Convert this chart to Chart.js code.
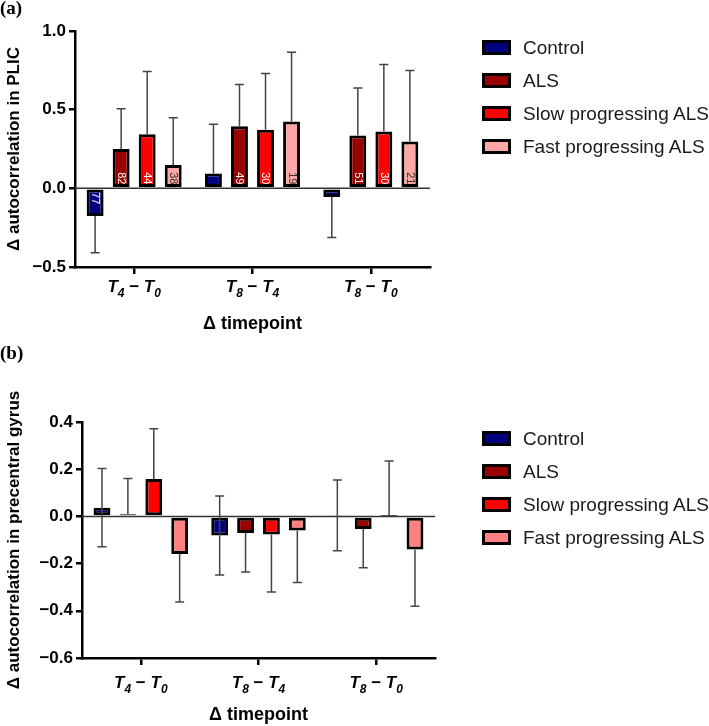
<!DOCTYPE html>
<html>
<head>
<meta charset="utf-8">
<script src="https://cdn.jsdelivr.net/npm/chart.js@4"></script>
<style>
  body { margin: 0; background: #fff; }
  #wrap { position: relative; width: 709px; height: 726px; font-family: "Liberation Sans", Arial, sans-serif; }
  .panel { position: absolute; left: 0; width: 709px; }
  .tag { position: absolute; left: 0; font: bold 19px "Liberation Serif", "Times New Roman", serif; color: #000; }
  .legend { position: absolute; left: 482px; }
  .legend div { height: 33px; display: flex; align-items: center; font-size: 19px; color: #1a1a1a; white-space: nowrap; }
  .legend span { display: inline-block; width: 29px; height: 15px; box-sizing: border-box; border: 3px solid #000; margin-right: 12px; }
</style>
</head>
<body>
<div id="wrap">
  <div class="panel" style="top:0;height:340px"><canvas id="plic"></canvas></div>
  <div class="panel" style="top:340px;height:386px"><canvas id="pcg"></canvas></div>
  <div class="tag" style="top:-3px">(a)</div>
  <div class="tag" style="top:342px">(b)</div>
  <div class="legend" id="legendA" style="top:31px"></div>
  <div class="legend" id="legendB" style="top:422px"></div>
</div>
<script>
var grupos = ['T4 \u2212 T0', 'T8 \u2212 T4', 'T8 \u2212 T0'];
var nomes = ['Control', 'ALS', 'Slow progressing ALS', 'Fast progressing ALS'];

// (a) PLIC
var plicControl = [-0.176, 0.095, -0.055];
var plicALS = [0.25, 0.394, 0.336];
var plicSlow = [0.343, 0.373, 0.362];
var plicFast = [0.148, 0.425, 0.298];
var plicControlSd = [0.234, 0.313, 0.258];
var plicALSSd = [0.256, 0.266, 0.301];
var plicSlowSd = [0.40, 0.357, 0.425];
var plicFastSd = [0.301, 0.44, 0.451];
var nControl = [77, null, null];
var nALS = [82, 49, 51];
var nSlow = [44, 30, 30];
var nFast = [38, 19, 21];

// (b) precentral gyrus
var pcgControl = [0.037, -0.081, 0.004];
var pcgALS = [0.009, -0.07, -0.053];
var pcgSlow = [0.159, -0.077, 0.002];
var pcgFast = [-0.159, -0.06, -0.14];
var pcgControlSd = [0.166, 0.167, 0.15];
var pcgALSSd = [0.152, 0.166, 0.165];
var pcgSlowSd = [0.212, 0.243, 0.233];
var pcgFastSd = [0.204, 0.22, 0.241];

var coresA = ['#000080', '#990000', '#ff0000', '#ffa6a6'];
var coresB = ['#000080', '#990000', '#ff0000', '#ff8080'];

var fonte = '"Liberation Sans", Arial, sans-serif';

var extras = {
    id: 'extras',
    beforeDatasetsDraw: function (chart) {
        var ctx = chart.ctx, area = chart.chartArea;
        var y0 = chart.scales.y.getPixelForValue(0);
        ctx.save();
        ctx.strokeStyle = '#333';
        ctx.lineWidth = 1.5;
        ctx.beginPath();
        ctx.moveTo(area.left, y0);
        ctx.lineTo(area.right, y0);
        ctx.stroke();
        ctx.restore();
    },
    afterDatasetsDraw: function (chart) {
        var ctx = chart.ctx;
        var y = chart.scales.y;
        var y0 = y.getPixelForValue(0);
        ctx.save();
        chart.data.datasets.forEach(function (ds, i) {
            var meta = chart.getDatasetMeta(i);
            meta.data.forEach(function (bar, j) {
                var v = ds.data[j], sd = ds.sd[j];
                var pos = v >= 0;
                var ends = ds.ambos ? [v + sd, v - sd] : [pos ? v + sd : v - sd];
                ctx.strokeStyle = '#444';
                ctx.lineWidth = 1.5;
                ends.forEach(function (e) {
                    var py = y.getPixelForValue(e);
                    ctx.beginPath();
                    ctx.moveTo(bar.x, y.getPixelForValue(v));
                    ctx.lineTo(bar.x, py);
                    ctx.moveTo(bar.x - 4.5, py);
                    ctx.lineTo(bar.x + 4.5, py);
                    ctx.stroke();
                });
                if (ds.n && ds.n[j]) {
                    ctx.save();
                    ctx.translate(bar.x, y0 + (pos ? -10 : 10));
                    ctx.rotate(Math.PI / 2);
                    ctx.font = '11px ' + fonte;
                    ctx.fillStyle = ds.corTexto;
                    ctx.textAlign = 'center';
                    ctx.textBaseline = 'middle';
                    ctx.fillText(String(ds.n[j]), 0, 0);
                    ctx.restore();
                }
            });
        });
        ctx.restore();
    },
    afterDraw: function (chart) {
        // category labels with subscripts: "T4 - T0"
        var ctx = chart.ctx, x = chart.scales.x;
        var base = x.top + chart.options.labelOffset;
        ctx.save();
        ctx.fillStyle = '#000';
        ctx.textBaseline = 'alphabetic';
        ctx.textAlign = 'left';
        chart.data.labels.forEach(function (lab, i) {
            var m = lab.match(/T(\d) (\S) T(\d)/);
            var pecas = [
                ['T', 'italic bold 17px ' + fonte, 0],
                [m[1], 'italic bold 12px ' + fonte, 5],
                [' ' + m[2] + ' ', 'bold 17px ' + fonte, 0],
                ['T', 'italic bold 17px ' + fonte, 0],
                [m[3], 'italic bold 12px ' + fonte, 5]
            ];
            var total = 0;
            pecas.forEach(function (p) { ctx.font = p[1]; total += ctx.measureText(p[0]).width; });
            var px = x.getPixelForValue(i) - total / 2;
            pecas.forEach(function (p) {
                ctx.font = p[1];
                ctx.fillText(p[0], px, base + p[2]);
                px += ctx.measureText(p[0]).width;
            });
        });
        ctx.restore();
    }
};

function fmt(v) {
    if (Math.abs(v) < 1e-9) return '0.0';
    return (v < 0 ? '\u2212' : '') + Math.abs(v).toFixed(1);
}

function montar(id, sets, cfg) {
    return new Chart(document.getElementById(id), {
        type: 'bar',
        data: { labels: grupos, datasets: sets },
        plugins: [extras],
        options: {
            responsive: true,
            maintainAspectRatio: false,
            animation: false,
            labelOffset: cfg.lab,
            layout: { padding: { top: cfg.top, right: cfg.right, left: 0, bottom: 0 } },
            datasets: {
                bar: {
                    categoryPercentage: 0.88,
                    barPercentage: 0.65,
                    borderColor: '#000',
                    borderWidth: 3,
                    borderSkipped: false
                }
            },
            plugins: {
                legend: { display: false },
                tooltip: { enabled: false }
            },
            scales: {
                x: {
                    afterFit: function (s) { s.height = cfg.xh; },
                    grid: { display: true, drawOnChartArea: false, offset: false, tickLength: 7, color: '#000', lineWidth: 2.5 },
                    border: { color: '#000', width: 2.5 },
                    ticks: { display: false },
                    title: { display: true, text: '\u0394 timepoint', color: '#000', padding: { top: 0, bottom: cfg.tb }, font: { family: fonte, size: 18, weight: 'bold' } }
                },
                y: {
                    min: cfg.min,
                    max: cfg.max,
                    afterFit: function (s) { s.width = cfg.yw; },
                    grid: { display: true, drawOnChartArea: false, tickLength: 6, color: '#000', lineWidth: 2.5 },
                    border: { color: '#000', width: 2.5 },
                    ticks: { stepSize: cfg.step, color: '#000', padding: 3, callback: fmt, font: { family: fonte, size: 17, weight: 'bold' } },
                    title: { display: true, text: cfg.titulo, color: '#000', padding: { top: 4, bottom: 0 }, font: { family: fonte, size: 17, weight: 'bold' } }
                }
            }
        }
    });
}

var setsA = [
    { label: nomes[0], data: plicControl, sd: plicControlSd, n: nControl, backgroundColor: coresA[0], corTexto: '#fff' },
    { label: nomes[1], data: plicALS, sd: plicALSSd, n: nALS, backgroundColor: coresA[1], corTexto: '#fff' },
    { label: nomes[2], data: plicSlow, sd: plicSlowSd, n: nSlow, backgroundColor: coresA[2], corTexto: '#fff' },
    { label: nomes[3], data: plicFast, sd: plicFastSd, n: nFast, backgroundColor: coresA[3], corTexto: '#333' }
];

var setsB = [
    { label: nomes[0], data: pcgControl, sd: pcgControlSd, ambos: true, backgroundColor: coresB[0] },
    { label: nomes[1], data: pcgALS, sd: pcgALSSd, backgroundColor: coresB[1] },
    { label: nomes[2], data: pcgSlow, sd: pcgSlowSd, backgroundColor: coresB[2] },
    { label: nomes[3], data: pcgFast, sd: pcgFastSd, backgroundColor: coresB[3] }
];

montar('plic', setsA, { top: 31, right: 279, xh: 73, yw: 75, min: -0.5, max: 1.0, step: 0.5, lab: 25, tb: 5, titulo: '\u0394 autocorrelation in PLIC' });
montar('pcg', setsB, { top: 82, right: 274, xh: 68, yw: 82, min: -0.6, max: 0.4, step: 0.2, lab: 30, tb: 0, titulo: '\u0394 autocorrelation in precentral gyrus' });

function legenda(id, cores) {
    var el = document.getElementById(id);
    for (var i = 0; i < nomes.length; i++) {
        var row = document.createElement('div');
        var box = document.createElement('span');
        box.style.background = cores[i];
        row.appendChild(box);
        row.appendChild(document.createTextNode(nomes[i]));
        el.appendChild(row);
    }
}
legenda('legendA', coresA);
legenda('legendB', coresB);
</script>
</body>
</html>
